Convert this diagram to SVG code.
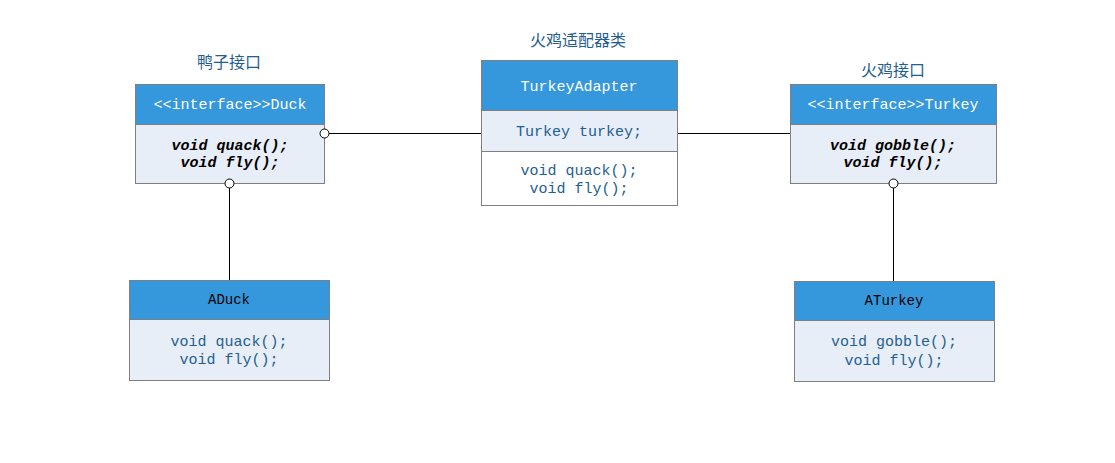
<svg xmlns="http://www.w3.org/2000/svg" width="1115" height="463" viewBox="0 0 1115 463">
<style>
.hd{fill:#3598dc;stroke:#7f7f7f;stroke-width:1}
.bd{fill:#e8eef8;stroke:#7f7f7f;stroke-width:1}
.wb{fill:#ffffff;stroke:#7f7f7f;stroke-width:1}
.t{font-family:"Liberation Mono",monospace;font-size:15px;text-anchor:middle}
.w{fill:#ffffff}
.k{fill:#000000}
.b{fill:#1f6090}
.bi{fill:#000000;font-weight:bold;font-style:italic}
.lb{font-family:"Noto Sans CJK SC",sans-serif;font-size:16px;fill:#1f6090;text-anchor:middle}
.ln{stroke:#000;stroke-width:1;fill:none}
.c{fill:#fff;stroke:#000;stroke-width:1}
</style>
<rect width="1115" height="463" fill="#fff"/>
<g id="connectors">
<line class="ln" x1="329" y1="133.5" x2="481" y2="133.5"/>
<line class="ln" x1="677" y1="133.5" x2="790" y2="133.5"/>
<line class="ln" x1="229.5" y1="188" x2="229.5" y2="280"/>
<line class="ln" x1="893.5" y1="188" x2="893.5" y2="281"/>
</g>
<g id="duck">
<text class="lb" x="229" y="68">鸭子接口</text>
<rect class="bd" x="135.5" y="124.5" width="189" height="59"/>
<rect class="hd" x="135.5" y="84.5" width="189" height="40"/>
<text class="t w" x="230" y="109">&lt;&lt;interface&gt;&gt;Duck</text>
<text class="t bi" x="230" y="150">void quack();</text>
<text class="t bi" x="230" y="167">void fly();</text>
<circle class="c" cx="324.5" cy="133.5" r="4.5"/>
<circle class="c" cx="229.5" cy="183.5" r="4.5"/>
</g>
<g id="adapter">
<text class="lb" x="578" y="46">火鸡适配器类</text>
<rect class="hd" x="481.5" y="60.5" width="196" height="50"/>
<text class="t w" x="579" y="91">TurkeyAdapter</text>
<rect class="bd" x="481.5" y="110.5" width="196" height="41"/>
<text class="t b" x="579" y="136">Turkey turkey;</text>
<rect class="wb" x="481.5" y="151.5" width="196" height="54"/>
<text class="t b" x="579" y="175">void quack();</text>
<text class="t b" x="579" y="193">void fly();</text>
</g>
<g id="turkey">
<text class="lb" x="893" y="76">火鸡接口</text>
<rect class="bd" x="790.5" y="124.5" width="206" height="59"/>
<rect class="hd" x="790.5" y="84.5" width="206" height="40"/>
<text class="t w" x="893" y="109">&lt;&lt;interface&gt;&gt;Turkey</text>
<text class="t bi" x="893" y="150">void gobble();</text>
<text class="t bi" x="893" y="167">void fly();</text>
<circle class="c" cx="893.5" cy="183.5" r="4.5"/>
</g>
<g id="aduck">
<rect class="hd" x="129.5" y="280.5" width="200" height="39"/>
<text class="t k" x="229" y="304" style="font-size:14px">ADuck</text>
<rect class="bd" x="129.5" y="319.5" width="200" height="61"/>
<text class="t b" x="229" y="346">void quack();</text>
<text class="t b" x="229" y="364">void fly();</text>
</g>
<g id="aturkey">
<rect class="hd" x="794.5" y="281.5" width="200" height="39"/>
<text class="t k" x="894" y="305" style="font-size:14px">ATurkey</text>
<rect class="bd" x="794.5" y="320.5" width="200" height="61"/>
<text class="t b" x="894" y="346">void gobble();</text>
<text class="t b" x="894" y="365">void fly();</text>
</g>
</svg>
